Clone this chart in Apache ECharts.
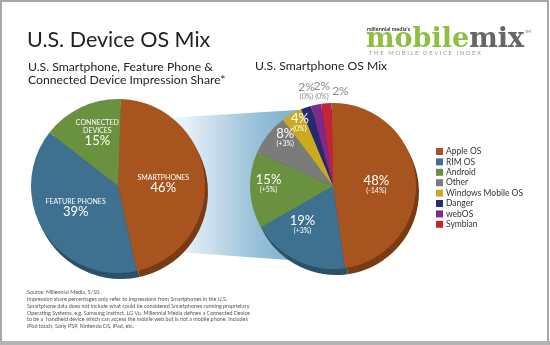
<!DOCTYPE html>
<html><head><meta charset="utf-8">
<script src="https://cdn.jsdelivr.net/npm/echarts@6/dist/echarts.min.js"></script>
<style>html,body{margin:0;padding:0;background:#fff}#c{width:550px;height:345px}</style>
</head><body><div id="c"></div>
<script>
// ---- data ----
const deviceNames = ['SMARTPHONES', 'FEATURE PHONES', 'CONNECTED\nDEVICES'];
const deviceShare = [46, 39, 15];
const osNames = ['Apple OS', 'RIM OS', 'Android', 'Other', 'Windows Mobile OS', 'Danger', 'webOS', 'Symbian'];
const osShare = [48, 19, 15, 8, 4, 2, 2, 2];
const osChange = ['(-14%)', '(+3%)', '(+5%)', '(+3%)', '(0%)', '(0%)', '(0%)', ''];

// ---- styles ----
const FONT = 'Lato, "Open Sans", sans-serif';
const deviceColors = ['#A8541F', '#3E7090', '#6A9140'];
const deviceShadow = ['#7A3A12', '#2B5068', '#4C6B2C'];
const osColors = ['#A8541F', '#3E7090', '#6A9140', '#7B7B7B', '#CCAA20', '#262A70', '#7C2C88', '#C4243A'];
const osShadow = ['#7A3A12', '#2B5068', '#4C6B2C', '#555555', '#927810', '#15184A', '#561A60', '#8C1528'];
const devOffsets = [[-1, 2], [-3, -3], [-1, -11]];
const osOffsets = [[-1, 2], [-11, -1], [-20, -4], [-13, -20], [-11, -25], [-12, -53], [-2, -52], [11, -51]];
const outsideIdx = [5, 6, 7];

const leftC = [118, 186], leftR = 87;
const rightC = [333, 186], rightR = 83;
const SH = [3, 6];

const chart = echarts.init(document.getElementById('c'));

const devData = deviceNames.map((n, i) => ({
  name: n, value: deviceShare[i],
  itemStyle: { color: deviceColors[i] },
  label: { offset: devOffsets[i] }
}));
const devShadowData = deviceShare.map((v, i) => ({ value: v, itemStyle: { color: deviceShadow[i] } }));

const osData = osNames.map((n, i) => {
  const out = outsideIdx.includes(i);
  return {
    name: n, value: osShare[i],
    itemStyle: { color: osColors[i] },
    label: {
      offset: osOffsets[i],
      formatter: osChange[i] ? '{p|' + osShare[i] + '%}\n{d|' + osChange[i] + '}' : '{p|' + osShare[i] + '%}',
      rich: {
        p: { fontSize: out ? 12 : 13, color: out ? '#8a8a8a' : '#fff', fontFamily: FONT, lineHeight: 12 },
        d: { fontSize: 7, color: out ? '#8a8a8a' : '#fff', fontFamily: FONT, lineHeight: 8 }
      }
    }
  };
});
const osShadowData = osShare.map((v, i) => ({ value: v, itemStyle: { color: osShadow[i] } }));

const footnote = [
  'Source: Millennial Media, 5/10.',
  'Impression share percentages only refer to impressions from Smartphones in the U.S.',
  'Smartphone data does not include what could be considered Smartphones running proprietary',
  'Operating Systems, e.g. Samsung Instinct, LG Vu. Millennial Media defines a Connected Device',
  'to be a  handheld device which can access the mobile web but is not a mobile phone. Includes',
  'iPod touch, Sony PSP, Nintendo DS, iPad, etc.'
].join('\n');

chart.setOption({
  animation: false,
  backgroundColor: '#fff',
  legend: {
    data: osNames, orient: 'vertical', left: 431, top: 142,
    itemWidth: 7, itemHeight: 7, itemGap: 1.4, icon: 'rect',
    textStyle: { fontSize: 8.5, color: '#333', fontFamily: FONT, padding: [0, 0, 0, -2] },
    selectedMode: false
  },
  graphic: [
    { type: 'rect', z: 0, shape: { x: 1, y: 1, width: 547, height: 341 }, style: { fill: 'none', stroke: '#a8a8a8', lineWidth: 2 } },
    { type: 'rect', z: 0, shape: { x: 0, y: 341, width: 550, height: 4 }, style: { fill: '#b4b4b4' } },
    { type: 'polygon', z: 0, shape: { points: [[150, 119], [330, 108], [330, 263], [150, 250]] },
      style: { fill: new echarts.graphic.LinearGradient(0, 0, 1, 0, [
        { offset: 0, color: '#ffffff' }, { offset: 0.2, color: '#e6f0f7' }, { offset: 0.6, color: '#96bfd8' }, { offset: 1, color: '#6fa2c4' }]) } },
    { type: 'text', z: 5, left: 27, top: 29, style: { text: 'U.S. Device OS Mix', fontSize: 21.5, fill: '#222', fontFamily: FONT } },
    { type: 'text', z: 5, left: 28, top: 60, style: { text: 'U.S. Smartphone, Feature Phone &\nConnected Device Impression Share*', fontSize: 12.2, lineHeight: 13.5, fill: '#222', fontFamily: FONT } },
    { type: 'text', z: 5, left: 255, top: 60, style: { text: 'U.S. Smartphone OS Mix', fontSize: 12.2, fill: '#222', fontFamily: FONT } },
    { type: 'text', z: 5, left: 367, top: 26, style: { text: "millennial media's", fontSize: 5.5, fontWeight: 'bold', fill: '#333', fontFamily: FONT } },
    { type: 'text', z: 5, left: 366, top: 26, style: { text: '{g|mobile}{k|mix}', rich: {
        g: { fontSize: 27, fontWeight: 'bold', fill: '#8fbf42', fontFamily: '"DejaVu Serif", serif' },
        k: { fontSize: 27, fontWeight: 'bold', fill: '#666', fontFamily: '"DejaVu Serif", serif' } } } },
    { type: 'text', z: 5, left: 525, top: 30, style: { text: 'TM', fontSize: 4, fill: '#666', fontFamily: FONT } },
    { type: 'text', z: 5, left: 369, top: 50, style: { text: 'T H E   M O B I L E   D E V I C E   I N D E X', fontSize: 6, fill: '#9a9a9a', fontFamily: FONT } },
    { type: 'text', z: 5, left: 27, top: 289, style: { text: footnote, fontSize: 5.4, lineHeight: 6.8, fill: '#555', fontFamily: FONT } }
  ],
  series: [
    { type: 'pie', z: 3, center: leftC, radius: leftR, startAngle: 88, silent: true,
      avoidLabelOverlap: false, labelLayout: { hideOverlap: false },
      label: { position: 'inside', formatter: p => '{n|' + p.name + '}\n{p|' + p.value + '%}',
        rich: { n: { fontSize: 7, color: '#fff', fontFamily: FONT, lineHeight: 8, align: 'center' },
                p: { fontSize: 13, color: '#fff', fontFamily: FONT, lineHeight: 13, align: 'center' } } },
      labelLine: { show: false }, data: devData },
    { type: 'pie', z: 2, center: [leftC[0] + SH[0], leftC[1] + SH[1]], radius: leftR, startAngle: 88, silent: true,
      label: { show: false }, labelLine: { show: false }, data: devShadowData },
    { type: 'pie', name: 'os', z: 3, center: rightC, radius: rightR, startAngle: 91, silent: true,
      avoidLabelOverlap: false, labelLayout: { hideOverlap: false },
      label: { position: 'inside' }, labelLine: { show: false }, data: osData },
    { type: 'pie', z: 2, center: [rightC[0] + SH[0], rightC[1] + SH[1]], radius: rightR, startAngle: 91, silent: true,
      label: { show: false }, labelLine: { show: false }, data: osShadowData }
  ]
});
</script></body></html>
